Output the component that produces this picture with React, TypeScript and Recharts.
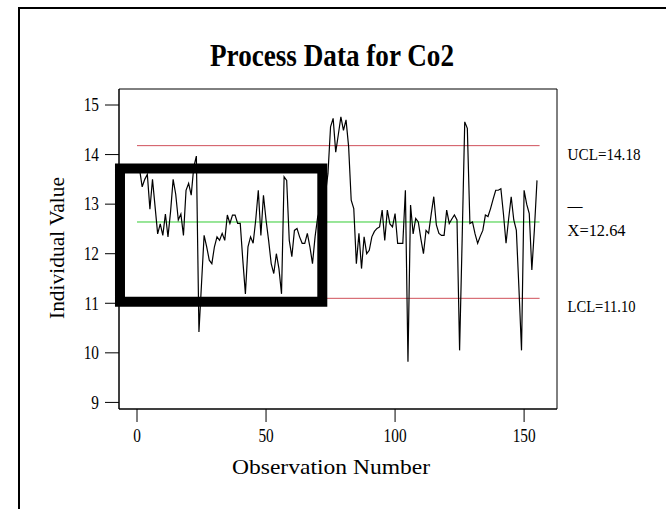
import { LineChart, Line, XAxis, YAxis, ReferenceLine, ReferenceArea } from 'recharts'

const co2Obs1to40 = [
  13.7, 13.35, 13.5, 13.6, 12.9, 13.5, 12.95, 12.4, 12.6, 12.37,
  12.8, 12.34, 12.85, 13.5, 13.2, 12.68, 12.8, 12.37, 13.28, 13.42,
  13.18, 13.75, 13.97, 10.42, 11.4, 12.37, 12.14, 11.87, 11.8, 12.14,
  12.34, 12.27, 12.41, 12.27, 12.78, 12.61, 12.78, 12.78, 12.61, 12.61,
]
const co2Obs41to80 = [
  11.87, 11.19, 12.14, 12.34, 12.21, 12.68, 13.28, 12.37, 13.18, 12.68,
  12.27, 11.8, 11.6, 12.0, 11.7, 11.19, 13.55, 13.48, 12.27, 11.94,
  12.47, 12.51, 12.34, 12.21, 12.21, 12.41, 12.14, 11.8, 12.34, 12.74,
  12.9, 12.6, 13.2, 13.62, 14.56, 14.73, 14.05, 14.4, 14.76, 14.49,
]
const co2Obs81to120 = [
  14.7, 14.16, 13.08, 12.91, 11.8, 12.41, 11.7, 12.34, 12.0, 12.07,
  12.34, 12.45, 12.51, 12.54, 12.88, 12.27, 12.88, 12.6, 12.54, 12.81,
  12.21, 12.21, 12.21, 13.28, 9.82, 12.98, 12.4, 12.71, 12.64, 12.3,
  12.0, 12.47, 12.41, 12.8, 13.15, 12.58, 12.41, 12.37, 12.37, 12.88,
]
const co2Obs121to155 = [
  12.61, 12.7, 12.78, 12.68, 10.05, 12.3, 14.66, 14.53, 12.61, 12.64,
  12.4, 12.21, 12.35, 12.47, 12.78, 12.75, 12.91, 13.1, 13.28, 13.28,
  13.31, 12.8, 12.21, 12.7, 13.15, 12.68, 12.47, 11.3, 10.05, 13.28,
  13.0, 12.81, 11.67, 12.5, 13.48,
]
const co2Values = [...co2Obs1to40, ...co2Obs41to80, ...co2Obs81to120, ...co2Obs121to155]
const observations = co2Values.map((_, i) => i + 1)

const xTicks = [0, 50, 100, 150]
const yTicks = [9, 10, 11, 12, 13, 14, 15]

const UCL = 14.18
const CENTER = 12.64
const LCL = 11.1
const limitFrom = 0
const limitTo = 156

// hand-drawn highlight box (data units)
const boxX = [-6.6, 71.8]
const boxY = [11.03, 13.72]

const X_DOMAIN = [-6.98, 162.75]
const Y_DOMAIN = [8.867, 15.323]

const FONT = '"Liberation Serif", "Times New Roman", serif'

const data = observations.map((obs, i) => ({ obs, value: co2Values[i] }))

function XTick({ x, y, payload }: any) {
  return (
    <g transform={`translate(${x},${y}) scale(0.85,1)`}>
      <text x={0} y={0} dy="0.75em" textAnchor="middle" fontFamily={FONT} fontSize={18} fill="#000">
        {payload.value}
      </text>
    </g>
  )
}

function YTick({ x, y, payload }: any) {
  return (
    <g transform={`translate(${x},${y}) scale(0.85,1)`}>
      <text x={0} y={0} dy="0.35em" textAnchor="end" fontFamily={FONT} fontSize={18} fill="#000">
        {payload.value}
      </text>
    </g>
  )
}

const limitLabel = (text: string, len: number, bar?: boolean) => (props: any) => {
  const vb = props.viewBox || { x: 0, y: 0, width: 0 }
  const x = vb.x + vb.width + 28
  const y = vb.y
  return (
    <g>
      {bar && (
        <text x={x} y={y - 11} fontFamily={FONT} fontSize={17} fill="#000" textLength={15} lengthAdjust="spacingAndGlyphs">
          —
        </text>
      )}
      <text x={x} y={y + 14} fontFamily={FONT} fontSize={17} fill="#000" textLength={len} lengthAdjust="spacingAndGlyphs">
        {text}
      </text>
    </g>
  )
}

export default function App() {
  return (
    <div style={{ position: 'absolute', left: 0, top: 0, width: 666, height: 509, background: '#fff', overflow: 'hidden' }}>
      <div
        style={{
          position: 'absolute', left: 18, top: 7, right: -4, bottom: -4,
          borderTop: '2px solid #000', borderLeft: '2px solid #000',
        }}
      />
      <div style={{ position: 'absolute', left: 0, top: 0 }}>
        <LineChart width={666} height={509} data={data} margin={{ top: 89, right: 109, bottom: 60, left: 79 }}>
          <XAxis
            dataKey="obs"
            type="number"
            domain={X_DOMAIN}
            ticks={xTicks}
            allowDataOverflow
            height={40}
            tickSize={13}
            tickMargin={6}
            axisLine={{ stroke: '#000' }}
            tickLine={{ stroke: '#000' }}
            tick={<XTick />}
          />
          <YAxis
            type="number"
            domain={Y_DOMAIN}
            ticks={yTicks}
            allowDataOverflow
            width={40}
            tickSize={14}
            tickMargin={6}
            axisLine={{ stroke: '#000' }}
            tickLine={{ stroke: '#000' }}
            tick={<YTick />}
          />
          <ReferenceArea
            x1={X_DOMAIN[0]}
            x2={X_DOMAIN[1]}
            y1={Y_DOMAIN[0]}
            y2={Y_DOMAIN[1]}
            fill="none"
            stroke="#000"
            strokeWidth={1}
          />
          <ReferenceLine
            segment={[{ x: limitFrom, y: UCL }, { x: limitTo, y: UCL }]}
            stroke="#d0505a"
            label={{ content: limitLabel('UCL=14.18', 73) }}
          />
          <ReferenceLine
            segment={[{ x: limitFrom, y: CENTER }, { x: limitTo, y: CENTER }]}
            stroke="#33cc33"
            label={{ content: limitLabel('X=12.64', 58, true) }}
          />
          <ReferenceLine
            segment={[{ x: limitFrom, y: LCL }, { x: limitTo, y: LCL }]}
            stroke="#d0505a"
            label={{ content: limitLabel('LCL=11.10', 68) }}
          />
          <Line
            type="linear"
            dataKey="value"
            stroke="#000"
            strokeWidth={1.2}
            dot={false}
            isAnimationActive={false}
          />
          <ReferenceArea
            x1={boxX[0]}
            x2={boxX[1]}
            y1={boxY[0]}
            y2={boxY[1]}
            fill="none"
            stroke="#000"
            strokeWidth={10}
            zIndex={1000}
          />
        </LineChart>
      </div>
      <svg width={666} height={509} style={{ position: 'absolute', left: 0, top: 0, pointerEvents: 'none' }}>
        <text x={332} y={66} textAnchor="middle" fontFamily={FONT} fontSize={32} fontWeight="bold" textLength={244} lengthAdjust="spacingAndGlyphs">
          Process Data for Co2
        </text>
        <text transform="translate(64,248) rotate(-90)" textAnchor="middle" fontFamily={FONT} fontSize={21} textLength={142} lengthAdjust="spacingAndGlyphs">
          Individual Value
        </text>
        <text x={331} y={474} textAnchor="middle" fontFamily={FONT} fontSize={21} textLength={198} lengthAdjust="spacingAndGlyphs">
          Observation Number
        </text>
      </svg>
    </div>
  )
}
